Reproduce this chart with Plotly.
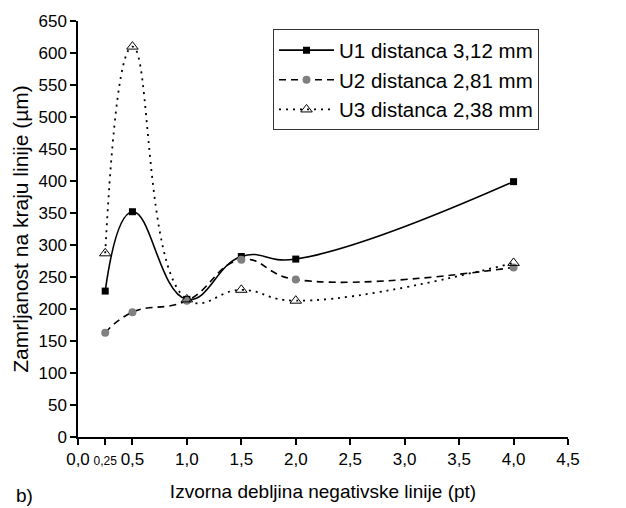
import plotly.graph_objects as go

x = [0.25, 0.5, 1.0, 1.5, 2.0, 4.0]
u1 = [228, 352, 215, 282, 278, 399]
u2 = [163, 195, 213, 277, 246, 265]
u3 = [287, 610, 215, 230, 213, 272]

names = ["U1 distanca 3,12 mm", "U2 distanca 2,81 mm", "U3 distanca 2,38 mm"]

x_ticks = [0, 0.25, 0.5, 1.0, 1.5, 2.0, 2.5, 3.0, 3.5, 4.0, 4.5]
x_labels = ["0,0", "<span style='font-size:12px'>0,25</span>", "0,5", "1,0", "1,5", "2,0",
            "2,5", "3,0", "3,5", "4,0", "4,5"]
y_ticks = list(range(0, 651, 50))

fig = go.Figure()
fig.add_trace(go.Scatter(
    x=x, y=u1, name=names[0], mode="lines+markers",
    line=dict(color="black", width=1.6, shape="spline", smoothing=1.3),
    marker=dict(symbol="square", size=7, color="black")))
fig.add_trace(go.Scatter(
    x=x, y=u2, name=names[1], mode="lines+markers",
    line=dict(color="black", width=1.6, dash="7px,5px", shape="spline", smoothing=1.3),
    marker=dict(symbol="circle", size=8, color="#808080")))
fig.add_trace(go.Scatter(
    x=x, y=u3, name=names[2], mode="lines+markers",
    line=dict(color="black", width=1.8, dash="2px,5px", shape="spline", smoothing=1.3),
    marker=dict(symbol="triangle-up-open", size=10, color="black", line=dict(width=1))))

# panel label
fig.add_annotation(text="b)", xref="paper", yref="paper", x=-0.131, y=-0.14,
                   xanchor="left", yanchor="middle", showarrow=False,
                   font=dict(size=19, color="black"))

fig.update_layout(
    width=626, height=508,
    margin=dict(l=70, r=66, t=13, b=79),
    plot_bgcolor="white", paper_bgcolor="white",
    font=dict(family="Liberation Sans, Arial", size=17, color="black"),
    showlegend=True,
    legend=dict(x=0.398, y=0.98, xanchor="left", yanchor="top",
                bordercolor="#333333", borderwidth=1, bgcolor="white",
                font=dict(size=20.5), tracegroupgap=0, itemwidth=55),
    xaxis=dict(range=[0, 4.5], tickvals=x_ticks, ticktext=x_labels, automargin=False,
               showline=True, linecolor="black", linewidth=1.5,
               ticks="outside", ticklen=6, tickwidth=1.5, tickcolor="black",
               showgrid=False, zeroline=False,
               title=dict(text="Izvorna debljina negativske linije (pt)", font=dict(size=19), standoff=17)),
    yaxis=dict(range=[0, 650], tickvals=y_ticks, automargin=False,
               showline=True, linecolor="black", linewidth=1.5,
               ticks="outside", ticklen=6, tickwidth=1.5, tickcolor="black",
               showgrid=False, zeroline=False,
               title=dict(text="Zamrljanost na kraju linije (µm)", font=dict(size=21), standoff=4)),
)

fig.write_html("out.html")
